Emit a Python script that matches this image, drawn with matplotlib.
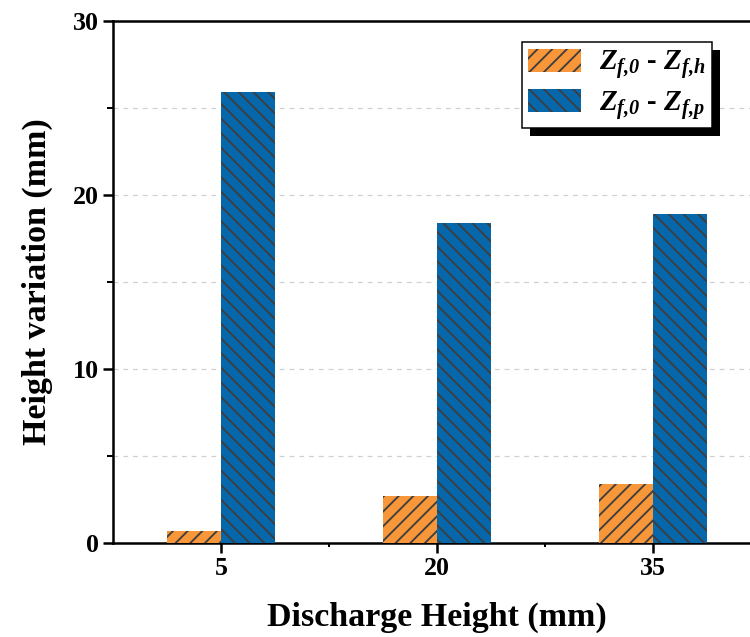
import matplotlib
matplotlib.use("Agg")
import matplotlib.pyplot as plt
from matplotlib.patches import Rectangle
from matplotlib.ticker import MultipleLocator, FixedLocator
import numpy as np

# Data
discharge_heights = [5, 20, 35]
dz_h = [0.7, 2.7, 3.4]     # Z_f,0 - Z_f,h
dz_p = [25.9, 18.4, 18.9]  # Z_f,0 - Z_f,p
x_ticklabels = ["5", "20", "35"]
y_ticks = [0, 10, 20, 30]

DPI = 88
W, H = 750, 637

plt.rcParams["font.family"] = ["Liberation Serif", "DejaVu Serif"]
plt.rcParams["font.weight"] = "bold"
plt.rcParams["mathtext.fontset"] = "custom"
plt.rcParams["mathtext.rm"] = "Liberation Serif:bold:italic"
plt.rcParams["mathtext.it"] = "Liberation Serif:bold:italic"
plt.rcParams["mathtext.bf"] = "Liberation Serif:bold:italic"
plt.rcParams["hatch.linewidth"] = 1.5

def px(v):
    return v * 72.0 / DPI

fig = plt.figure(figsize=(W / DPI, H / DPI), dpi=DPI)
left, right, top, bottom = 113, 761, 21, 543
ax = fig.add_axes([left / W, 1 - bottom / H, (right - left) / W, (bottom - top) / H])

orange = "#F7973A"
blue = "#0667AB"
hatch_col = "#3d3d3d"
bw = 3.75
x = np.array(discharge_heights, dtype=float)

ax.bar(x - bw / 2, dz_h, width=bw, color=orange, edgecolor=hatch_col, linewidth=0,
       hatch="//", label=r"$Z_{f{,}0}$ - $Z_{f{,}h}$", zorder=3)
ax.bar(x + bw / 2, dz_p, width=bw, color=blue, edgecolor=hatch_col, linewidth=0,
       hatch="\\\\", label=r"$Z_{f{,}0}$ - $Z_{f{,}p}$", zorder=3)

ax.set_xlim(-2.5, 42.5)
ax.set_ylim(0, 30)
ax.set_xticks(discharge_heights)
ax.set_xticklabels(x_ticklabels)
ax.xaxis.set_minor_locator(FixedLocator([12.5, 27.5]))
ax.set_yticks(y_ticks)
ax.yaxis.set_minor_locator(MultipleLocator(5))

ax.grid(True, which="both", axis="y", linestyle=(0, (4, 4)), color="#d0d0d0",
        linewidth=1.0, zorder=0)
ax.set_axisbelow(True)

for s in ["left", "bottom", "top"]:
    ax.spines[s].set_linewidth(px(2.5))
ax.spines["right"].set_visible(False)

ax.tick_params(axis="both", which="major", direction="out", length=px(10), width=px(2.5),
               labelsize=px(26), pad=px(4))
ax.tick_params(axis="y", which="minor", direction="out", length=px(6), width=px(2))
ax.tick_params(axis="x", which="minor", direction="out", length=px(4), width=px(2))
ax.tick_params(top=False, right=False, which="both")
for lab in ax.get_xticklabels() + ax.get_yticklabels():
    lab.set_fontweight("bold")

ax.set_xlabel("Discharge Height (mm)", fontsize=px(34), fontweight="bold", labelpad=px(22))
ax.set_ylabel("Height variation (mm)", fontsize=px(34), fontweight="bold", labelpad=px(20))

leg = ax.legend(loc="upper left", bbox_to_anchor=((522 - left) / (right - left),
                                                   (bottom - 42) / (bottom - top)),
                fontsize=px(29), frameon=True, fancybox=False, edgecolor="black",
                framealpha=1, handlelength=1.8, handleheight=0.85, handletextpad=0.65,
                borderpad=0.22, labelspacing=0.25, borderaxespad=0)
leg.get_frame().set_linewidth(px(1.5))
leg.set_zorder(6)

# Solid drop shadow behind the legend box
fig.canvas.draw()
bb = leg.get_frame().get_window_extent()
off = 8
shadow = Rectangle(((bb.x0 + off) / W, (bb.y0 - off) / H), bb.width / W, bb.height / H,
                   transform=fig.transFigure, facecolor="black", edgecolor="none",
                   zorder=5.5, clip_on=False)
ax.add_patch(shadow)

fig.savefig("out.png", dpi=DPI)
